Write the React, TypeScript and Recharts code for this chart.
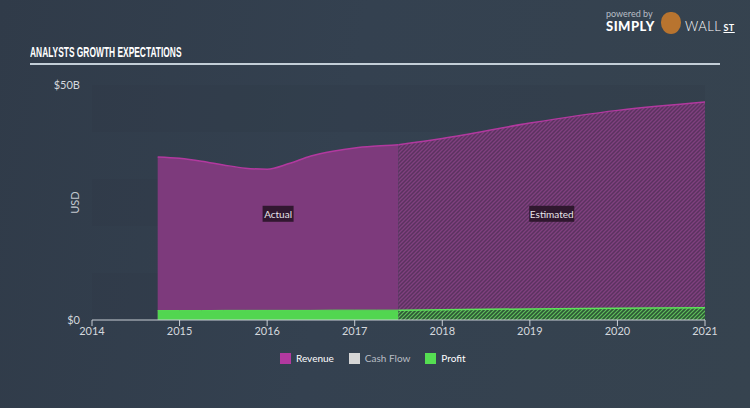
import React from "react";
import {
  ComposedChart,
  Area,
  XAxis,
  YAxis,
  ReferenceArea,
  ReferenceDot,
} from "recharts";

// actual (reported) values, USD billions
const actualYears = [2014.75, 2015, 2015.25, 2015.5, 2015.75, 2016, 2016.25, 2016.5, 2016.75, 2017, 2017.25, 2017.5];
const actualRevenue = [34.7, 34.4, 33.8, 33.0, 32.3, 32.1, 33.3, 34.9, 35.9, 36.6, 37.0, 37.3];
const actualProfit = [2.0, 2.0, 2.0, 2.05, 2.05, 2.05, 2.05, 2.05, 2.1, 2.1, 2.1, 2.1];

// analyst estimates
const estYears = [2017.5, 2018, 2019, 2020, 2021];
const estRevenue = [37.3, 38.6, 41.9, 44.6, 46.4];
const estProfit = [2.1, 2.2, 2.35, 2.5, 2.6];

const xTicks = [2014, 2015, 2016, 2017, 2018, 2019, 2020, 2021];
const yTicks = [0, 50];
const bands = [
  [0, 10],
  [20, 30],
  [40, 50],
];

const legendItems = [
  { name: "Revenue", color: "#b2399f", text: "#ffffff" },
  { name: "Cash Flow", color: "#d6d6d6", text: "#b9bec5" },
  { name: "Profit", color: "#55de52", text: "#ffffff" },
];

type Row = { x: number; revA?: number; revE?: number; proA?: number; proE?: number };

const rows: Row[] = [];
actualYears.forEach((x, i) => {
  rows.push({ x, revA: actualRevenue[i], proA: actualProfit[i] });
});
estYears.forEach((x, i) => {
  const existing = rows.find((r) => r.x === x);
  if (existing) {
    existing.revE = estRevenue[i];
    existing.proE = estProfit[i];
  } else {
    rows.push({ x, revE: estRevenue[i], proE: estProfit[i] });
  }
});

const font = "Lato, 'Open Sans', sans-serif";
const axisColor = "#c9ced5";

const actualMid = (actualYears[0] + actualYears[actualYears.length - 1]) / 2;
const estMid = (estYears[0] + estYears[estYears.length - 1]) / 2;

const TagLabel = (text: string, w: number) => (props: any) => {
  const { cx, cy } = props;
  return (
    <g>
      <rect x={cx - w / 2} y={cy - 8} width={w} height={16} fill="#2a1529" fillOpacity={0.92} />
      <text x={cx} y={cy + 4} textAnchor="middle" fill="#e8e4ea" fontSize={10} fontFamily={font}>
        {text}
      </text>
    </g>
  );
};

export default function App() {
  return (
    <div
      style={{
        position: "absolute",
        left: 0,
        top: 0,
        width: 750,
        height: 408,
        background: "linear-gradient(100deg, #303b49 0%, #344150 45%, #36434f 100%)",
        overflow: "hidden",
        fontFamily: font,
      }}
    >
      <svg width={0} height={0} style={{ position: "absolute" }}>
        <defs>
          <pattern id="hatchPurple" patternUnits="userSpaceOnUse" width={4} height={4}>
            <rect width={4} height={4} fill="#5b3260" />
            <path d="M-1,1 l2,-2 M0,4 l4,-4 M3,5 l2,-2" stroke="#80407f" strokeWidth={1.3} />
          </pattern>
          <pattern id="hatchGreen" patternUnits="userSpaceOnUse" width={4} height={4}>
            <rect width={4} height={4} fill="#2d5836" />
            <path d="M-1,1 l2,-2 M0,4 l4,-4 M3,5 l2,-2" stroke="#5fbf5a" strokeWidth={1.2} />
          </pattern>
        </defs>
      </svg>

      {/* title */}
      <div
        style={{
          position: "absolute",
          left: 30,
          top: 43,
          color: "#ffffff",
          fontFamily: "'Liberation Sans', Arial, sans-serif",
          fontWeight: 700,
          fontSize: 15,
          whiteSpace: "nowrap",
          transform: "scaleX(0.56)",
          transformOrigin: "0 0",
        }}
      >
        ANALYSTS GROWTH EXPECTATIONS
      </div>
      <div style={{ position: "absolute", left: 30, top: 63, width: 690, height: 1.5, background: "#c3ced7" }} />

      {/* logo */}
      <div style={{ position: "absolute", left: 606, top: 8, color: "#b8bec6", fontSize: 9 }}>powered by</div>
      <div style={{ position: "absolute", left: 606, top: 18, color: "#ffffff", fontSize: 13, fontWeight: 900, letterSpacing: 0.5 }}>
        SIMPLY
      </div>
      <div
        style={{
          position: "absolute",
          left: 661,
          top: 12,
          width: 20,
          height: 22,
          borderRadius: "45% 45% 50% 50%",
          background: "#b8742f",
        }}
      />
      <div style={{ position: "absolute", left: 685, top: 18, color: "#ffffff", fontSize: 13, fontWeight: 300, letterSpacing: 0.5 }}>
        WALL
        <span style={{ fontSize: 9, fontWeight: 700, textDecoration: "underline", marginLeft: 2 }}>ST</span>
      </div>

      <ComposedChart
        width={750}
        height={408}
        data={rows}
        margin={{ top: 85, right: 45, bottom: 58, left: 0 }}
        style={{ position: "absolute", left: 0, top: 0 }}
      >
        {bands.map(([a, b]) => (
          <ReferenceArea key={a} y1={a} y2={b} fill="#2c3744" fillOpacity={0.22} stroke="none" ifOverflow="hidden" />
        ))}
        <XAxis
          dataKey="x"
          type="number"
          domain={[2014, 2021]}
          ticks={xTicks}
          interval={0}
          height={30}
          axisLine={{ stroke: axisColor, strokeWidth: 1 }}
          tickLine={{ stroke: axisColor }}
          tickSize={6}
          tickMargin={1}
          tick={{ fill: "#d4d8dd", fontSize: 11, fontFamily: font }}
        />
        <YAxis
          type="number"
          domain={[0, 50]}
          ticks={yTicks}
          width={92}
          axisLine={false}
          tickLine={false}
          tickMargin={6}
          tickFormatter={(v: number) => (v === 0 ? "$0" : `$${v}B`)}
          tick={{ fill: "#d4d8dd", fontSize: 11, fontFamily: font }}
          label={{ value: "USD", angle: -90, position: "center", dx: 29, fill: "#c3c8cf", fontSize: 11, fontFamily: font }}
        />
        <Area
          type="monotone"
          dataKey="revA"
          stroke="#b2399f"
          strokeWidth={1.5}
          fill="#7d3a7c"
          fillOpacity={1}
          isAnimationActive={false}
          dot={false}
          activeDot={false}
        />
        <Area
          type="monotone"
          dataKey="revE"
          stroke="#b2399f"
          strokeWidth={1.5}
          fill="url(#hatchPurple)"
          fillOpacity={1}
          isAnimationActive={false}
          dot={false}
          activeDot={false}
        />
        <Area
          type="monotone"
          dataKey="proA"
          stroke="#55de52"
          strokeWidth={1}
          fill="#52d650"
          fillOpacity={1}
          isAnimationActive={false}
          dot={false}
          activeDot={false}
        />
        <Area
          type="monotone"
          dataKey="proE"
          stroke="#5de35a"
          strokeWidth={1.5}
          fill="url(#hatchGreen)"
          fillOpacity={1}
          isAnimationActive={false}
          dot={false}
          activeDot={false}
        />
        <ReferenceDot x={actualMid} y={22.6} r={0} shape={TagLabel("Actual", 31)} ifOverflow="visible" />
        <ReferenceDot x={estMid} y={22.6} r={0} shape={TagLabel("Estimated", 45)} ifOverflow="visible" />
      </ComposedChart>

      {/* legend */}
      <div style={{ position: "absolute", left: 280, top: 352, display: "flex", alignItems: "center" }}>
        {legendItems.map((item) => (
          <div key={item.name} style={{ display: "flex", alignItems: "center", marginRight: 15 }}>
            <div style={{ width: 11, height: 11, background: item.color, marginRight: 5 }} />
            <span style={{ color: item.text, fontSize: 10 }}>{item.name}</span>
          </div>
        ))}
      </div>
    </div>
  );
}
